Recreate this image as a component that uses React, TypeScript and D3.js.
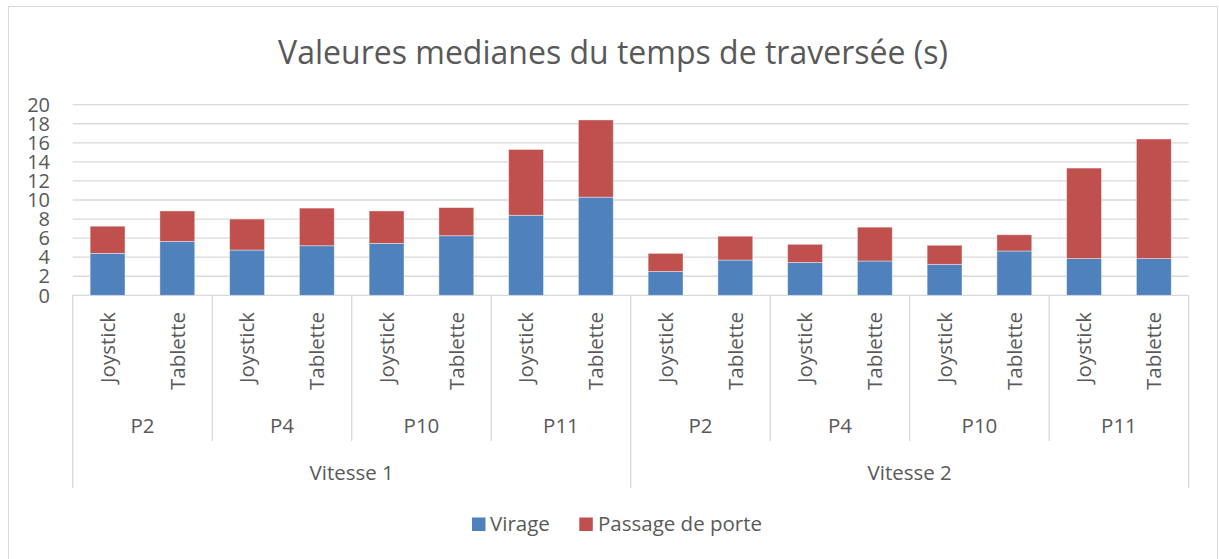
import React from 'react';
import * as d3 from 'd3';

// valeurs (secondes)
const speeds = ['Vitesse 1', 'Vitesse 2'];
const participants = ['P2', 'P4', 'P10', 'P11'];
const devices = ['Joystick', 'Tablette'];

const virage = [4.4, 5.65, 4.75, 5.2, 5.45, 6.25, 8.4, 10.3, 2.5, 3.7, 3.45, 3.6, 3.25, 4.65, 3.85, 3.85];
const passage = [2.85, 3.2, 3.25, 3.95, 3.4, 2.95, 6.9, 8.1, 1.9, 2.5, 1.9, 3.55, 2.0, 1.7, 9.5, 12.55];

const yTicks = [0, 2, 4, 6, 8, 10, 12, 14, 16, 18, 20];
const seriesNames = ['Virage', 'Passage de porte'];
const colors = ['#4F81BD', '#C0504D'];

const W = 1219;
const H = 559;
const TXT = '#595959';
const GRID = '#D9D9D9';
const FONT = "'Open Sans', sans-serif";

export default function App() {
  const left = 72.7;
  const right = 1188.7;
  const y0 = 295.3;
  const yTop = 104.7;

  // une catégorie par combinaison vitesse / participant / dispositif
  const cats: { speed: string; part: string; dev: string; i: number }[] = [];
  speeds.forEach((s) =>
    participants.forEach((p) =>
      devices.forEach((d) => cats.push({ speed: s, part: p, dev: d, i: cats.length }))
    )
  );

  const x = d3.scaleBand<number>()
    .domain(cats.map((c) => c.i))
    .range([left, right])
    .paddingInner(0.5)
    .paddingOuter(0.25);
  const step = x.step();

  const y = d3.scaleLinear().domain([0, 20]).range([y0, yTop]);

  const stacked = d3.stack<number>()
    .keys(['0', '1'])
    .value((i, k) => (k === '0' ? virage[i] : passage[i]))(cats.map((c) => c.i));

  const partCount = devices.length;
  const speedCount = devices.length * participants.length;

  return (
    <div style={{ position: 'absolute', left: 0, top: 0 }}>
      <svg width={W} height={H} style={{ display: 'block', fontFamily: FONT }}>
        <rect x={0} y={0} width={W} height={H} fill="#fff" />
        <rect x={8.5} y={6.5} width={1209} height={570} fill="none" stroke={GRID} strokeWidth={1} />

        <text x={613} y={64} textAnchor="middle" fontSize={32} fill={TXT}>
          Valeures medianes du temps de traversée (s)
        </text>

        {/* grille et axe Y */}
        {yTicks.map((t) => (
          <g key={t}>
            <line x1={left} x2={right} y1={y(t)} y2={y(t)} stroke={GRID} strokeWidth={1.3} />
            <text x={50} y={y(t)} dy="0.36em" textAnchor="end" fontSize={20} fill={TXT}>
              {t}
            </text>
          </g>
        ))}

        {/* barres empilées */}
        {stacked.map((layer, si) => (
          <g key={si} fill={colors[si]}>
            {layer.map((d, i) => (
              <rect
                key={i}
                x={x(i)}
                y={y(d[1])}
                width={x.bandwidth()}
                height={y(d[0]) - y(d[1])}
                stroke="#fff"
                strokeOpacity={0.5}
                strokeWidth={0.8}
              />
            ))}
          </g>
        ))}

        {/* axe des catégories à plusieurs niveaux */}
        {d3.range(0, cats.length + 1, partCount).map((k) => {
          const xx = left + k * step;
          const bottom = k % speedCount === 0 ? 488 : 441;
          return <line key={k} x1={xx} x2={xx} y1={y0} y2={bottom} stroke={GRID} strokeWidth={1.3} />;
        })}

        {cats.map((c) => (
          <text
            key={c.i}
            transform={`translate(${x(c.i)! + x.bandwidth() / 2},312) rotate(-90)`}
            dy="0.36em"
            textAnchor="end"
            fontSize={20.5}
            fill={TXT}
          >
            {c.dev}
          </text>
        ))}

        {d3.range(0, cats.length, partCount).map((k) => (
          <text
            key={k}
            x={left + (k + partCount / 2) * step}
            y={433}
            textAnchor="middle"
            fontSize={20.5}
            fill={TXT}
          >
            {cats[k].part}
          </text>
        ))}

        {d3.range(0, cats.length, speedCount).map((k) => (
          <text
            key={k}
            x={left + (k + speedCount / 2) * step}
            y={480}
            textAnchor="middle"
            fontSize={20.5}
            fill={TXT}
          >
            {cats[k].speed}
          </text>
        ))}

        {/* légende */}
        <g>
          <rect x={472} y={517.5} width={13.5} height={13.5} fill={colors[0]} />
          <text x={490} y={531} fontSize={20.5} fill={TXT}>{seriesNames[0]}</text>
          <rect x={579.3} y={517.5} width={13.5} height={13.5} fill={colors[1]} />
          <text x={598} y={531} fontSize={20.5} fill={TXT}>{seriesNames[1]}</text>
        </g>
      </svg>
    </div>
  );
}
